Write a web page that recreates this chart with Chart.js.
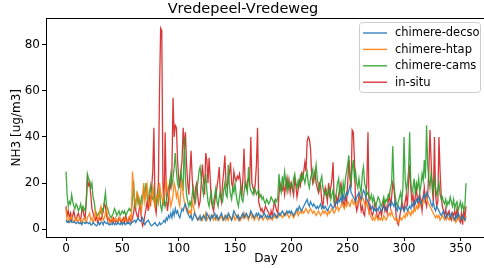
<!DOCTYPE html>
<html><head><meta charset="utf-8">
<script src="https://cdn.jsdelivr.net/npm/chart.js@4.4.1/dist/chart.umd.min.js"></script>
<style>
html,body{margin:0;padding:0;overflow:hidden;background:#fff;width:484px;height:268px}
#wrap{position:absolute;left:0;top:0;width:532px;height:268px}
</style></head>
<body><div id="wrap"><canvas id="c" width="532" height="268"></canvas></div>
<script>
const title = "Vredepeel-Vredeweg";
const xLabel = "Day";
const yLabel = "NH3 [ug/m3]";
const seriesNames = ["chimere-decso", "chimere-htap", "chimere-cams", "in-situ"];
const xTicks = [0, 50, 100, 150, 200, 250, 300, 350];
const yTicks = [0, 20, 40, 60, 80];
const nDays = 356;
const days = Array.from({length: nDays}, (_, i) => i);

const decso = [
4,3,3.5,3,4,3,3,3.5,3,2.5, 3,3,2.5,3,2,3,3,2.5,3,3,
2.5,3,2,2,3,2.5,2,1.5,2,3, 2,3,3,2,3.5,3,2.5,3,2,2,
2.5,2,3,2,2.5,2,3,2.5,2,3, 2,3,2.5,2,3,2.5,3,2,3,3,
3.5,4,3,4,5,4,3.5,4,5,3, 2,3,3.5,4,3,2,1.5,2,2.5,3,
2,1.5,2,3,2,2.5,3,4,3,5, 4,6,5,7,5,8,6,9,7,8,
6,5,7,9,8,10,11,9,7,6, 5,6,4,5,7,6,5,4,5,6,
4,5,6,5,4,7,6,5,4,6, 5,6,7,5,6,4,5,6,7,5,
4,5,6,5,7,6,5,4,6,8, 7,6,5,6,4,5,6,7,5,6,
7,6,5,6,8,7,6,5,6,7, 6,7,5,6,5,6,7,6,5,6,
5,6,5,5,6,7,6,5,6,7, 6,7,8,7,6,7,8,7,8,7,
8,7,6,7,8,9,8,10,9,8, 9,10,11,12,13,11,10,12,11,10,
11,10,9,10,9,10,11,9,10,9, 10,9,8,9,10,11,10,9,10,11,
12,11,13,12,14,12,15,13,14,16, 15,17,19,16,15,14,13,12,14,15,
16,14,13,15,17,16,14,13,12,11, 10,9,10,8,9,8,9,8,10,9,
8,9,10,9,8,9,10,11,10,12, 11,10,12,9,8,10,9,8,10,9,
8,9,10,8,9,10,9,11,10,12, 11,13,12,14,12,11,13,14,15,13,
16,15,14,13,11,10,12,9,8,10, 9,8,7,6,7,8,6,5,6,7,
6,5,7,6,5,4,6,5,7,6, 5,4,6,5,4,5
];
const htap = [
9,4,3,5,4,6,4,3,4,5, 4,3,5,4,3,4,5,4,3,5,
6,7,4,5,3,4,8,6,5,4, 8,10,6,4,5,7,9,5,4,3,
4,5,3,4,5,4,3,4,5,4, 3,4,5,4,3,4,5,6,4,25,
18,12,10,16,15,12,10,8,14,20, 12,15,19,14,10,12,15,18,12,10,
14,15,12,20,16,14,12,15,18,21, 17,16,14,10,12,15,20,18,14,16,
12,10,18,20,15,12,10,8,9,7, 8,6,12,10,8,6,5,4,5,4,
5,4,6,5,7,4,5,6,4,5, 6,4,5,4,6,5,4,5,6,4,
5,6,4,5,4,6,5,4,5,6, 4,5,6,4,5,4,6,5,7,5,
6,5,4,6,7,5,6,4,5,6, 5,4,5,6,5,4,5,6,5,4,
5,6,5,4,5,6,5,6,5,6, 7,6,5,6,7,6,7,6,5,6,
7,6,5,6,7,8,6,7,8,7, 8,7,8,9,8,7,8,9,8,7,
8,7,6,7,8,7,6,7,8,7, 8,7,6,8,7,8,9,8,7,8,
9,10,8,9,10,12,10,9,11,10, 12,11,10,12,13,11,12,10,11,12,
13,15,12,14,13,11,10,12,9,8, 6,5,4,5,4,6,5,4,5,4,
5,4,6,5,4,5,6,7,6,8, 6,5,4,5,4,3,4,5,4,5,
6,5,7,6,8,7,6,8,7,9, 8,10,9,11,10,12,11,13,12,14,
15,12,11,10,9,8,7,6,5,6, 5,6,4,5,6,5,4,5,6,5,
4,5,6,5,4,5,3,4,5,4, 5,4,6,5,4,6
];
const cams = [
25,15,10,12,11,15,12,10,9,11, 10,8,9,11,8,10,9,8,12,24,
22,21,18,20,14,12,8,7,6,7, 8,7,9,8,12,16,10,9,7,6,
5,6,7,9,8,6,7,8,6,7, 8,7,8,6,7,8,9,8,9,12,
21,10,12,15,11,13,10,14,12,18, 15,20,14,12,16,19,14,13,17,11,
10,15,12,18,10,8,12,14,10,12, 15,18,20,24,19,22,27,33,25,20,
18,22,25,20,18,40,22,15,12,10, 12,10,15,18,14,12,18,20,25,27,
22,18,15,20,24,17,12,10,14,16, 10,12,15,18,12,10,14,16,13,12,
17,20,15,14,28,19,15,13,18,16, 20,15,12,10,14,18,13,12,16,20,
18,16,27,19,17,16,15,18,17,15, 16,17,14,15,13,14,12,11,13,12,
11,12,14,13,12,11,13,12,14,24, 18,16,23,19,25,21,17,22,18,20,
19,17,22,24,20,18,21,19,23,21, 24,22,20,23,25,20,18,22,24,26,
21,24,28,22,19,17,21,23,18,16, 15,17,14,16,18,13,15,17,12,14,
16,20,22,15,18,14,20,16,22,25, 28,32,24,20,26,30,22,25,20,18,
22,18,16,24,27,20,18,15,16,14, 13,15,12,14,11,10,12,14,13,11,
10,12,14,11,13,12,15,14,18,20, 36,20,15,12,10,12,14,16,12,18,
40,22,17,20,25,42,20,16,18,22, 15,20,18,22,16,19,24,21,30,22,
45,28,22,18,24,20,16,22,18,15, 17,20,15,13,14,12,11,13,10,12,
11,14,12,10,13,9,11,12,8,10, 12,9,11,8,10,20
];
const insitu = [
10,6,8,5,7,4,6,8,5,4, 6,7,5,4,8,9,6,5,12,22,
19,20,15,9,7,5,4,6,3,4, 5,4,6,8,11,10,6,4,5,3,
4,3,5,4,3,4,3,5,4,3, 4,5,3,6,4,3,5,4,3,5,
7,12,8,6,5,9,11,4,1.5,3, 6,9,12,8,15,10,18,25,44,10,
7,14,20,60,87,86,20,10,42,15, 8,12,20,18,25,57,40,45,44,30,
22,18,25,30,44,35,42,28,20,15, 25,34,22,15,12,18,20,14,10,12,
20,28,22,15,33,30,20,31,22,12, 10,8,12,15,18,22,27,15,12,20,
25,32,20,18,22,24,29,20,18,25, 22,21,23,22,24,20,14,22,35,20,
18,21,22,20,40,20,18,16,20,28, 44,12,10,8,9,7,8,10,9,8,
7,5,8,6,9,12,10,8,7,15, 20,18,17,20,15,19,22,17,21,16,
20,18,15,22,19,14,17,21,19,24, 22,25,29,25,38,40,39,35,24,20,
22,25,20,18,16,20,19,12,10,15, 18,15,12,20,15,18,22,29,12,10,
14,12,15,18,20,16,12,10,14,12, 20,30,22,18,43,42,30,12,8,10,
15,12,8,10,7,6,12,20,42,8, 10,7,6,8,12,10,6,5,7,8,
6,9,12,8,10,7,12,15,10,14, 20,18,12,6,3,2,5,8,12,10,
8,12,15,10,20,28,18,12,15,10, 14,18,12,10,15,12,8,14,18,12,
10,15,25,43,30,18,12,40,15,10, 12,40,25,15,10,8,6,9,5,7,
8,5,4,7,6,8,5,9,6,4, 3,7,2,8,5,10
];
const colors = ["rgba(31,119,180,0.9)", "rgba(255,127,14,0.9)", "rgba(44,160,44,0.9)", "rgba(214,39,40,0.92)"];
const allSeries = [decso, htap, cams, insitu];
allSeries.forEach((s, i) => { if (s.length !== nDays) throw new Error(seriesNames[i] + " length " + s.length); });

const FONT = "'DejaVu Sans', sans-serif";
const datasets = allSeries.map((s, i) => ({
  label: seriesNames[i],
  data: days.map((d, j) => ({x: d, y: s[j]})),
  borderColor: colors[i],
  backgroundColor: colors[i],
  borderWidth: 1.3,
  pointRadius: 0,
  tension: 0,
  fill: false
}));

const framePlugin = {
  id: 'frame',
  afterDraw(chart) {
    const {ctx, chartArea: a} = chart;
    ctx.save();
    ctx.strokeStyle = '#000';
    ctx.lineWidth = 1;
    ctx.beginPath();
    const t = Math.round(a.top) + 0.5;
    ctx.moveTo(Math.round(a.left) + 0.5, t);
    ctx.lineTo(Math.round(a.right) + 0.5, t);
    ctx.moveTo(Math.round(a.right) + 0.5, t);
    ctx.lineTo(Math.round(a.right) + 0.5, Math.round(a.bottom) + 0.5);
    ctx.stroke();
    // legend
    const x0 = 359.5, y0 = 22.5, w = 121, h = 70, r = 3;
    ctx.beginPath();
    ctx.moveTo(x0 + r, y0);
    ctx.arcTo(x0 + w, y0, x0 + w, y0 + h, r);
    ctx.arcTo(x0 + w, y0 + h, x0, y0 + h, r);
    ctx.arcTo(x0, y0 + h, x0, y0, r);
    ctx.arcTo(x0, y0, x0 + w, y0, r);
    ctx.closePath();
    ctx.fillStyle = 'rgba(255,255,255,0.8)';
    ctx.fill();
    ctx.strokeStyle = '#cccccc';
    ctx.stroke();
    ctx.font = "11.5px " + FONT;
    ctx.textBaseline = 'middle';
    ctx.textAlign = 'left';
    chart.data.datasets.forEach((ds, i) => {
      const y = 33 + i * 16.4;
      ctx.strokeStyle = ds.borderColor;
      ctx.lineWidth = 1.4;
      ctx.beginPath();
      ctx.moveTo(363, y);
      ctx.lineTo(387, y);
      ctx.stroke();
      ctx.fillStyle = '#000';
      ctx.fillText(ds.label, 395, y + 0.5);
    });
    ctx.restore();
  }
};

new Chart(document.getElementById('c'), {
  type: 'line',
  data: {datasets},
  options: {
    responsive: false,
    animation: false,
    devicePixelRatio: 1,
    layout: {padding: {left: 0, right: 46, top: 0, bottom: 0}},
    plugins: {
      legend: {display: false},
      tooltip: {enabled: false},
      title: {display: true, text: title, color: '#000', font: {family: FONT, size: 14.5, weight: 'normal'}, padding: {top: 1, bottom: 0}}
    },
    scales: {
      x: {
        type: 'linear', min: -17.75, max: 372.75,
        afterBuildTicks: s => { s.ticks = xTicks.map(v => ({value: v})); },
        afterFit: s => { s.height = 31; },
        grid: {display: true, drawOnChartArea: false, drawTicks: true, tickLength: 4, color: '#000'},
        border: {display: true, color: '#000', width: 1},
        ticks: {color: '#000', font: {family: FONT, size: 12}, padding: 1, maxRotation: 0},
        title: {display: true, text: xLabel, color: '#000', font: {family: FONT, size: 12}, padding: {top: 0, bottom: 1.8}}
      },
      y: {
        type: 'linear', min: -3.3, max: 91.3,
        afterBuildTicks: s => { s.ticks = yTicks.map(v => ({value: v})); },
        afterFit: s => { s.width = 46; },
        grid: {display: true, drawOnChartArea: false, drawTicks: true, tickLength: 4, color: '#000'},
        border: {display: true, color: '#000', width: 1},
        ticks: {color: '#000', font: {family: FONT, size: 12}, padding: 2},
        title: {display: true, text: yLabel, color: '#000', font: {family: FONT, size: 12}, padding: {top: 9.5, bottom: 0}}
      }
    }
  },
  plugins: [framePlugin]
});
</script>
</body></html>
